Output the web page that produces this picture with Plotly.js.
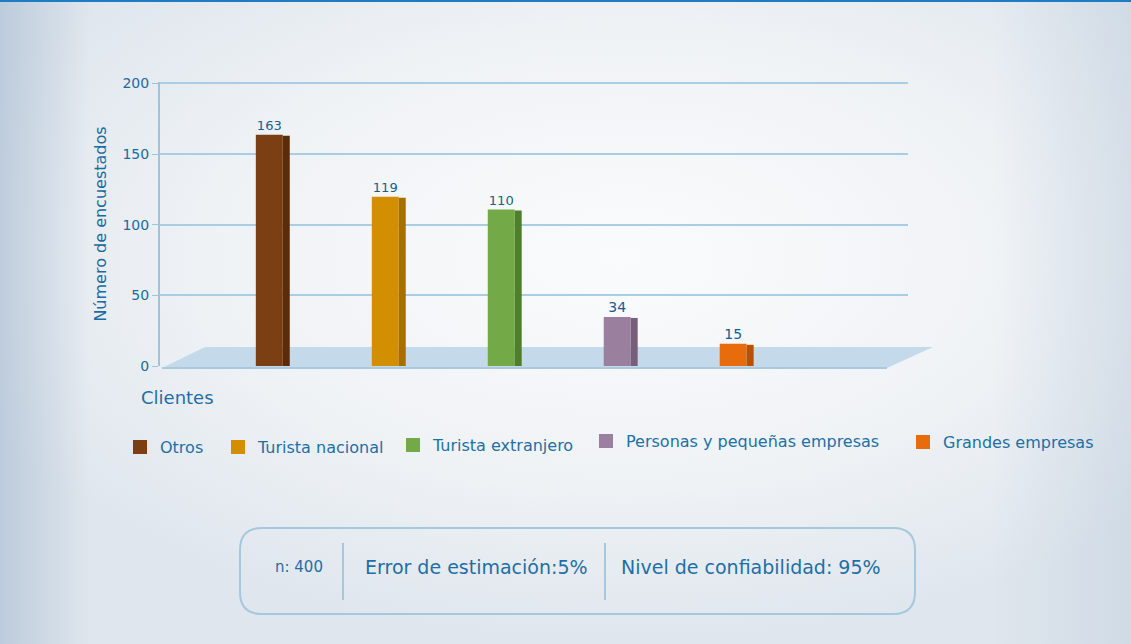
<!DOCTYPE html>
<html>
<head>
<meta charset="utf-8">
<script src="https://cdn.plot.ly/plotly-3.0.1.min.js"></script>
<style>
html,body{margin:0;padding:0;width:1131px;height:644px;overflow:hidden;}
body{
  position:relative;
  background:
    linear-gradient(90deg, rgba(160,182,205,0.55) 0px, rgba(200,214,228,0.0) 90px),
    linear-gradient(270deg, rgba(190,205,220,0.45) 0px, rgba(200,214,228,0.0) 140px),
    radial-gradient(ellipse 62% 60% at 55% 40%, #fafbfc 0%, #f0f3f6 55%, #dfe6ed 100%);
}
#topline{position:absolute;left:0;top:0;width:1131px;height:2px;background:#1f7cc2;z-index:5;}
#chart{position:absolute;left:0;top:0;width:1131px;height:644px;}
</style>
</head>
<body>
<div id="topline"></div>
<div id="chart"></div>
<script>
const categories = ["Otros", "Turista nacional", "Turista extranjero", "Personas y pequeñas empresas", "Grandes empresas"];
const values = [163, 119, 110, 34, 15];
const frontColors = ["#7b3f13", "#d38f02", "#74a947", "#9a7f9e", "#e86c0b"];
const sideColors = ["#5a2c0b", "#a86f00", "#4f7e2c", "#766079", "#b65208"];
const yTicks = [0, 50, 100, 150, 200];
const infoTexts = ["n: 400", "Error de estimación:5%", "Nivel de confiabilidad: 95%"];

const blue = "#1e6fa6";
const font = "DejaVu Sans, Verdana, sans-serif";
const W = 1131, H = 644;
const L = 160, R = 223, T = 82, B = 278;
const pw = W - L - R, ph = H - T - B;
const px = x => (x - L) / pw;
const py = y => (H - B - y) / ph;

// legend placement (pixel positions of each legend entry's text start / centre line)
const legendTextX = [160, 258, 433, 626, 943];
const legendY = [447, 447, 445, 441, 442];

const traces = [];
categories.forEach((c, i) => {
  traces.push({
    type: "bar", x: [c], y: [values[i]], name: c,
    legend: i === 0 ? "legend" : "legend" + (i + 1),
    width: 0.215, offset: -0.115,
    marker: {color: frontColors[i], line: {width: 2, color: frontColors[i]}},
    text: [String(values[i])], textposition: "outside",
    textfont: {color: "#175d92", size: 14, family: font},
    cliponaxis: false, hoverinfo: "x+y"
  });
  traces.push({
    type: "bar", x: [c], y: [values[i]], name: c + " lado",
    width: 0.06, offset: 0.109, showlegend: false,
    marker: {color: sideColors[i], line: {width: 0}},
    hoverinfo: "skip"
  });
});

function roundRect(x0, y0, x1, y1, r) {
  const rx = r / pw, ry = r / ph;
  const a = px(x0), b = px(x1), top = py(y0), bot = py(y1);
  return `M ${a+rx} ${top} L ${b-rx} ${top} Q ${b} ${top} ${b} ${top-ry} L ${b} ${bot+ry} Q ${b} ${bot} ${b-rx} ${bot} L ${a+rx} ${bot} Q ${a} ${bot} ${a} ${bot+ry} L ${a} ${top-ry} Q ${a} ${top} ${a+rx} ${top} Z`;
}

const shapes = [
  {type: "path", xref: "paper", yref: "paper", layer: "below",
   path: `M ${px(162)} ${py(368)} L ${px(205)} ${py(347)} L ${px(933)} ${py(347)} L ${px(887)} ${py(368)} Z`,
   fillcolor: "#c4daeb", line: {width: 0}},
  {type: "line", xref: "paper", yref: "paper", layer: "below", x0: px(162), x1: px(887), y0: py(368), y1: py(368),
   line: {color: "#a9c9df", width: 2}},
  {type: "path", xref: "paper", yref: "paper", path: roundRect(240, 528, 915, 614, 22),
   fillcolor: "rgba(0,0,0,0)", line: {color: "#a6c8de", width: 2}},
  {type: "line", xref: "paper", yref: "paper", x0: px(343), x1: px(343), y0: py(543), y1: py(600),
   line: {color: "#a6c8de", width: 2}},
  {type: "line", xref: "paper", yref: "paper", x0: px(605), x1: px(605), y0: py(543), y1: py(600),
   line: {color: "#a6c8de", width: 2}}
];

const annotations = [
  {text: "Clientes", xref: "paper", yref: "paper", x: px(139), y: py(397), xanchor: "left", yanchor: "middle",
   showarrow: false, font: {size: 18, color: blue, family: font}},
  {text: infoTexts[0], xref: "paper", yref: "paper", x: px(299), y: py(567), xanchor: "center", yanchor: "middle",
   showarrow: false, font: {size: 15, color: blue, family: font}},
  {text: infoTexts[1], xref: "paper", yref: "paper", x: px(476), y: py(567), xanchor: "center", yanchor: "middle",
   showarrow: false, font: {size: 19, color: blue, family: font}},
  {text: infoTexts[2], xref: "paper", yref: "paper", x: px(751), y: py(567), xanchor: "center", yanchor: "middle",
   showarrow: false, font: {size: 19, color: blue, family: font}}
];

const layout = {
  width: W, height: H,
  margin: {l: L, r: R, t: T, b: B},
  paper_bgcolor: "rgba(0,0,0,0)", plot_bgcolor: "rgba(0,0,0,0)",
  barmode: "overlay",
  font: {family: font, color: blue},
  showlegend: true,
  xaxis: {type: "category", range: [-0.95, 5.5], showticklabels: false, showgrid: false,
          zeroline: false, showline: false, ticks: "", fixedrange: true},
  yaxis: {range: [0, 201], tickvals: yTicks, ticks: "outside", ticklen: 6, tickcolor: "#9fc3da",
          showline: true, linecolor: "#9fc3da", linewidth: 2, gridcolor: "#a9cde3", gridwidth: 2,
          zeroline: false, tickfont: {size: 14, color: "#1b6aa0", family: font},
          title: {text: "Número de encuestados", standoff: 12, font: {size: 16, color: "#1b6aa0", family: font}}},
  shapes: shapes,
  annotations: annotations
};

categories.forEach((c, i) => {
  const key = i === 0 ? "legend" : "legend" + (i + 1);
  layout[key] = {
    orientation: "h", x: px(legendTextX[i] - 40), y: py(legendY[i]),
    xanchor: "left", yanchor: "middle", bgcolor: "rgba(0,0,0,0)",
    font: {size: 16, color: blue, family: font}
  };
});

Plotly.newPlot("chart", traces, layout, {displayModeBar: false, staticPlot: true});
</script>
</body>
</html>
